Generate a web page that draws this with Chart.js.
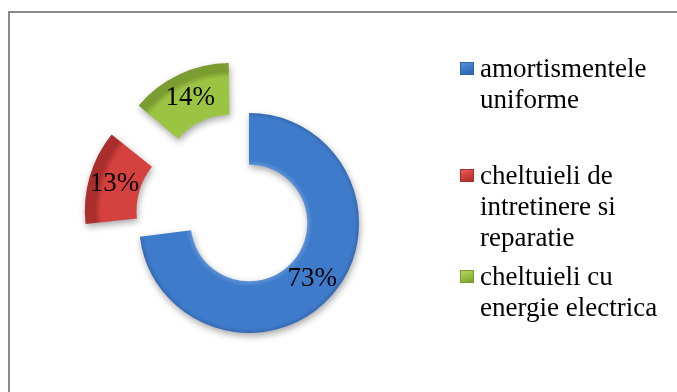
<!DOCTYPE html>
<html>
<head>
<meta charset="utf-8">
<script src="https://cdn.jsdelivr.net/npm/chart.js@4.4.1/dist/chart.umd.min.js"></script>
<style>
    html, body { margin: 0; padding: 0; background: #fff; }
    #wrap { position: relative; width: 677px; height: 392px; overflow: hidden; }
    #frame {
        position: absolute; left: 8px; top: 11px; width: 700px; height: 400px;
        border-left: 2px solid #8a8a8a; border-top: 2px solid #8a8a8a;
    }
    #pie { position: absolute; left: 0; top: 0; }
    .legend-item {
        position: absolute; left: 460px; width: 210px;
        font-family: 'Liberation Serif', 'Times New Roman', serif;
        font-size: 27px; line-height: 31px; color: #000;
    }
    .legend-item .box {
        position: absolute; left: 0; top: 9px; width: 14px; height: 13px;
    }
    .legend-item .txt { margin-left: 20px; width: 188px; }
</style>
</head>
<body>
<div id="wrap">
    <div id="frame"></div>
    <canvas id="pie" width="677" height="392"></canvas>
    <div id="legend"></div>
</div>
<script>
// Cost structure doughnut (values in percent)
const categories = ['amortismentele uniforme', 'cheltuieli de intretinere si reparatie', 'cheltuieli cu energie electrica'];
const shares = [73, 13, 14];

// colours: [light edge, main, dark edge]
const sliceColors = [
    ['#5f93d8', '#3f7bcb', '#2f62a6'],
    ['#e25f5d', '#d4413f', '#a92e2c'],
    ['#b3d466', '#9cc443', '#7b9c30']
];
const explode = [0, 176, 176]; // chart.js arc offset per slice
const legendTop = [53, 160, 261]; // layout of the legend entries

// soft drop shadow under the ring
const shadowPlugin = {
    id: 'shadow',
    beforeDatasetsDraw(chart) {
        const ctx = chart.ctx;
        ctx.save();
        ctx.shadowColor = 'rgba(0,0,0,0.35)';
        ctx.shadowBlur = 7;
        ctx.shadowOffsetX = 1;
        ctx.shadowOffsetY = 3;
    },
    afterDatasetsDraw(chart) {
        chart.ctx.restore();
    }
};

// percentage labels in the middle of each (exploded) slice
const labelPlugin = {
    id: 'pctLabels',
    afterDraw(chart) {
        const ctx = chart.ctx;
        const meta = chart.getDatasetMeta(0);
        ctx.save();
        ctx.font = "27px 'Liberation Serif', 'Times New Roman', serif";
        ctx.fillStyle = '#000';
        ctx.textAlign = 'center';
        ctx.textBaseline = 'middle';
        meta.data.forEach(function(arc, i) {
            const p = arc.getProps(['x', 'y', 'startAngle', 'endAngle', 'innerRadius', 'outerRadius', 'circumference']);
            const mid = (p.startAngle + p.endAngle) / 2;
            const t = explode[i] / 4;
            const fix = 1 - Math.sin(Math.min(Math.PI, p.circumference));
            const r = (p.innerRadius + p.outerRadius) / 2 + t + t * fix;
            ctx.fillText(shares[i] + '%', p.x + Math.cos(mid) * r, p.y + Math.sin(mid) * r);
        });
        ctx.restore();
    }
};

function sliceFill(context) {
    const chart = context.chart;
    const area = chart.chartArea;
    const c = sliceColors[context.dataIndex];
    if (!area) return c[1];
    const cx = (area.left + area.right) / 2;
    const cy = (area.top + area.bottom) / 2;
    const g = chart.ctx.createRadialGradient(cx, cy, 58, cx, cy, 112);
    g.addColorStop(0, c[0]);
    g.addColorStop(0.1, c[1]);
    g.addColorStop(0.88, c[1]);
    g.addColorStop(1, c[2]);
    return g;
}

new Chart(document.getElementById('pie').getContext('2d'), {
    type: 'doughnut',
    data: {
        labels: categories,
        datasets: [{
            data: shares,
            backgroundColor: sliceFill,
            borderWidth: 0,
            offset: explode
        }]
    },
    options: {
        responsive: false,
        animation: false,
        events: [],
        radius: 110,
        cutout: '53%',
        layout: { padding: { left: 20, right: 199, top: 60, bottom: 6 } },
        plugins: {
            legend: { display: false },
            tooltip: { enabled: false }
        }
    },
    plugins: [shadowPlugin, labelPlugin]
});

// HTML legend with wrapped labels
const legendEl = document.getElementById('legend');
categories.forEach(function(name, i) {
    const c = sliceColors[i];
    const item = document.createElement('div');
    item.className = 'legend-item';
    item.style.top = legendTop[i] + 'px';
    const box = document.createElement('div');
    box.className = 'box';
    box.style.background = 'linear-gradient(160deg, ' + c[0] + ' 0%, ' + c[1] + ' 45%, ' + c[2] + ' 100%)';
    box.style.border = '1px solid ' + c[2];
    box.style.boxSizing = 'border-box';
    const txt = document.createElement('div');
    txt.className = 'txt';
    txt.textContent = name;
    item.appendChild(box);
    item.appendChild(txt);
    legendEl.appendChild(item);
});
</script>
</body>
</html>
